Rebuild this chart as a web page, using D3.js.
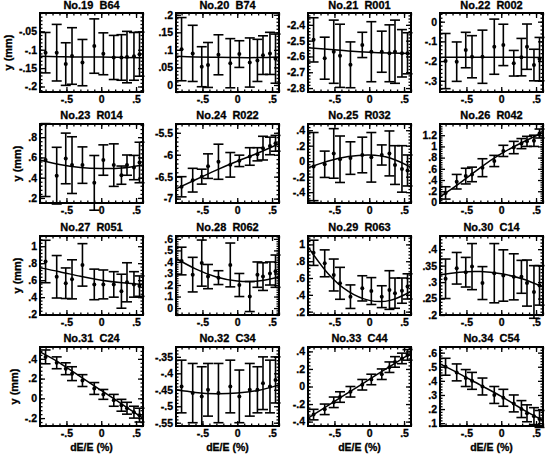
<!DOCTYPE html>
<html>
<head>
<meta charset="utf-8">
<script src="https://cdn.jsdelivr.net/npm/d3@7"></script>
<style>
  body { margin: 0; background: #fff; }
  svg text { font-family: "Liberation Sans", Arial, sans-serif; font-weight: bold; fill: #000; stroke: #000; stroke-width: 0.3px; }
</style>
</head>
<body>
<svg id="chart" width="546" height="456"></svg>
<script>
// Energy deviation dE/E (%) of each measurement
const xValues = [-0.80, -0.64, -0.51, -0.42, -0.27, -0.10, 0.03, 0.18, 0.29, 0.37, 0.47, 0.55];
// Abscissae at which the fitted curves are sampled
const fitX = [-0.88, -0.6, -0.3, 0, 0.3, 0.6];
const xTicks = [-0.5, 0, 0.5];

const panelTitles = [
  "No.19  B64", "No.20  B74", "No.21  R001", "No.22  R002",
  "No.23  R014", "No.24  R022", "No.25  R032", "No.26  R042",
  "No.27  R051", "No.28  R062", "No.29  R063", "No.30  C14",
  "No.31  C24", "No.32  C34", "No.33  C44", "No.34  C54"
];

// Vertical position y (mm): measured values, errors, fitted curve
const y19 = [-0.108, -0.108, -0.139, -0.117, -0.135, -0.090, -0.111, -0.121, -0.121, -0.120, -0.118, -0.112];
const e19 = [0.055, 0.077, 0.058, 0.077, 0.063, 0.074, 0.057, 0.060, 0.062, 0.070, 0.065, 0.060];
const f19 = [-0.118, -0.119, -0.120, -0.120, -0.121, -0.122];

const y20 = [0.102, 0.090, 0.052, 0.057, 0.086, 0.062, 0.088, 0.064, 0.070, 0.085, 0.090, 0.075];
const e20 = [0.090, 0.080, 0.057, 0.064, 0.057, 0.070, 0.038, 0.070, 0.060, 0.055, 0.060, 0.070];
const f20 = [0.082, 0.080, 0.079, 0.078, 0.078, 0.080];

const y21 = [-2.495, -2.611, -2.570, -2.596, -2.653, -2.527, -2.570, -2.570, -2.580, -2.570, -2.580, -2.580];
const e21 = [0.140, 0.133, 0.200, 0.200, 0.145, 0.080, 0.190, 0.130, 0.180, 0.200, 0.150, 0.130];
const f21 = [-2.545, -2.555, -2.565, -2.573, -2.578, -2.582];

const y22 = [-0.200, -0.203, -0.144, -0.178, -0.178, -0.127, -0.118, -0.211, -0.180, -0.127, -0.220, -0.190];
const e22 = [0.140, 0.100, 0.090, 0.107, 0.135, 0.140, 0.105, 0.065, 0.095, 0.115, 0.080, 0.110];
const f22 = [-0.180, -0.180, -0.181, -0.181, -0.181, -0.182];

const y23 = [0.574, 0.420, 0.590, 0.524, 0.524, 0.349, 0.574, 0.524, 0.425, 0.524, 0.500, 0.550];
const e23 = [0.360, 0.280, 0.250, 0.280, 0.180, 0.270, 0.150, 0.210, 0.090, 0.100, 0.120, 0.200];
const f23 = [0.575, 0.530, 0.500, 0.490, 0.495, 0.525];

const y24 = [-6.73, -6.58, -6.50, -6.26, -6.16, -6.23, -6.14, -6.04, -5.99, -5.85, -5.80, -5.74];
const e24 = [0.23, 0.27, 0.17, 0.28, 0.40, 0.28, 0.13, 0.20, 0.15, 0.27, 0.20, 0.18];
const f24 = [-6.78, -6.57, -6.35, -6.15, -5.96, -5.75];

const y25 = [-0.07, -0.04, 0.10, 0.025, 0.04, 0.08, 0.05, 0.08, 0.10, -0.05, -0.10, -0.12];
const e25 = [0.44, 0.17, 0.32, 0.30, 0.21, 0.23, 0.32, 0.13, 0.29, 0.25, 0.30, 0.20];
const f25 = [-0.085, 0.000, 0.060, 0.080, 0.040, -0.080];

const y26 = [0.17, 0.37, 0.47, 0.50, 0.62, 0.74, 0.92, 0.98, 1.05, 1.09, 1.10, 1.23];
const e26 = [0.11, 0.13, 0.14, 0.13, 0.16, 0.10, 0.10, 0.11, 0.09, 0.09, 0.10, 0.08];
const f26 = [0.10, 0.34, 0.62, 0.87, 1.07, 1.25];

const y27 = [0.82, 0.64, 0.564, 0.61, 0.78, 0.55, 0.55, 0.55, 0.47, 0.575, 0.55, 0.53];
const e27 = [0.25, 0.25, 0.18, 0.23, 0.25, 0.18, 0.17, 0.15, 0.20, 0.23, 0.15, 0.12];
const f27 = [0.745, 0.700, 0.645, 0.600, 0.570, 0.550];

const y28 = [0.408, 0.29, 0.39, 0.273, 0.264, 0.374, 0.20, 0.10, 0.29, 0.273, 0.30, 0.32];
const e28 = [0.12, 0.15, 0.20, 0.105, 0.06, 0.19, 0.10, 0.13, 0.11, 0.12, 0.10, 0.14];
const f28 = [0.430, 0.340, 0.270, 0.235, 0.235, 0.270];

const y29 = [0.90, 0.775, 0.636, 0.537, 0.378, 0.477, 0.445, 0.378, 0.457, 0.42, 0.45, 0.50];
const e29 = [0.15, 0.16, 0.19, 0.19, 0.14, 0.15, 0.16, 0.13, 0.23, 0.18, 0.15, 0.15];
const f29 = [0.970, 0.660, 0.440, 0.334, 0.334, 0.440];

const y30 = [0.31, 0.342, 0.33, 0.347, 0.297, 0.327, 0.32, 0.316, 0.316, 0.297, 0.27, 0.29];
const e30 = [0.06, 0.048, 0.045, 0.07, 0.05, 0.09, 0.078, 0.07, 0.05, 0.07, 0.08, 0.06];
const f30 = [0.322, 0.330, 0.332, 0.325, 0.310, 0.285];

const y31 = [0.42, 0.36, 0.30, 0.25, 0.18, 0.10, 0.04, -0.02, -0.07, -0.10, -0.14, -0.17];
const e31 = [0.07, 0.06, 0.06, 0.07, 0.06, 0.06, 0.05, 0.06, 0.06, 0.06, 0.06, 0.07];
const f31 = [0.47, 0.36, 0.22, 0.08, -0.06, -0.20];

const y32 = [-0.44, -0.46, -0.47, -0.45, -0.46, -0.44, -0.47, -0.45, -0.45, -0.43, -0.44, -0.42];
const e32 = [0.08, 0.09, 0.09, 0.08, 0.09, 0.08, 0.08, 0.08, 0.07, 0.08, 0.08, 0.07];
const f32 = [-0.450, -0.458, -0.462, -0.460, -0.452, -0.435];

const y33 = [-0.32, -0.26, -0.18, -0.12, -0.06, 0.02, 0.08, 0.14, 0.22, 0.28, 0.32, 0.36];
const e33 = [0.06, 0.06, 0.06, 0.06, 0.06, 0.06, 0.06, 0.06, 0.06, 0.06, 0.06, 0.06];
const f33 = [-0.36, -0.22, -0.07, 0.08, 0.23, 0.38];

const y34 = [0.50, 0.46, 0.42, 0.40, 0.36, 0.30, 0.28, 0.24, 0.20, 0.17, 0.15, 0.13];
const e34 = [0.06, 0.06, 0.06, 0.06, 0.06, 0.06, 0.06, 0.06, 0.06, 0.06, 0.06, 0.06];
const f34 = [0.52, 0.45, 0.37, 0.29, 0.20, 0.12];

// y-axis ranges and labelled ticks of each panel
const yDomains = [
  [-0.215, 0], [-0.02, 0.205], [-2.825, -2.325], [-0.357, 0.044],
  [0.15, 0.93], [-7.1, -5.3], [-0.54, 0.48], [-0.01, 1.4],
  [0.19, 1.12], [-0.06, 0.625], [0.16, 1.1], [0.2, 0.44],
  [-0.28, 0.52], [-0.56, -0.32], [-0.45, 0.45], [0.08, 0.64]
];
const yTicks = [
  [-0.2, -0.15, -0.1, -0.05], [0, 0.05, 0.1, 0.15, 0.2], [-2.8, -2.7, -2.6, -2.5, -2.4], [-0.3, -0.2, -0.1, 0],
  [0.2, 0.4, 0.6, 0.8], [-7, -6.5, -6, -5.5], [-0.4, -0.2, 0, 0.2, 0.4], [0, 0.2, 0.4, 0.6, 0.8, 1, 1.2],
  [0.2, 0.4, 0.6, 0.8, 1], [0, 0.1, 0.2, 0.3, 0.4, 0.5, 0.6], [0.2, 0.4, 0.6, 0.8, 1], [0.2, 0.25, 0.3, 0.35, 0.4],
  [-0.2, 0, 0.2, 0.4], [-0.55, -0.5, -0.45, -0.4, -0.35], [-0.4, -0.2, 0, 0.2, 0.4], [0.1, 0.2, 0.3, 0.4, 0.5, 0.6]
];

const yData = [y19, y20, y21, y22, y23, y24, y25, y26, y27, y28, y29, y30, y31, y32, y33, y34];
const eData = [e19, e20, e21, e22, e23, e24, e25, e26, e27, e28, e29, e30, e31, e32, e33, e34];
const fData = [f19, f20, f21, f22, f23, f24, f25, f26, f27, f28, f29, f30, f31, f32, f33, f34];

// ---- layout ----
const colLeft = [40, 176, 308, 440];
const rowTop = [13, 124, 236, 347];
const W = 103, H = 79;
const xDomain = [-0.88, 0.6];
const FONT = "Liberation Sans, Arial, sans-serif";
const CAP = 5;

// IDL-like number labels: ".5", "-.05", "1.2"
function fmt(v) {
  let s = String(+v.toFixed(4));
  return s.replace(/^(-?)0\./, "$1.");
}

function range(a, b, step) {
  const out = [];
  const n = Math.round((b - a) / step);
  for (let k = 0; k <= n; k++) out.push(+(a + k * step).toFixed(6));
  return out;
}

const svg = d3.select("#chart");

panelTitles.forEach((title, i) => {
  const col = i % 4, row = Math.floor(i / 4);
  const g = svg.append("g").attr("transform", `translate(${colLeft[col]},${rowTop[row]})`);
  const x = d3.scaleLinear().domain(xDomain).range([0, W]);
  const y = d3.scaleLinear().domain(yDomains[i]).range([H, 0]);

  const yt = yTicks[i];
  const yStep = yt[1] - yt[0];
  const yMinor = range(Math.ceil(yDomains[i][0] / (yStep / 5)) * (yStep / 5), yDomains[i][1], yStep / 5)
    .filter(v => v >= yDomains[i][0] && v <= yDomains[i][1]);
  const xMinor = range(-0.8, 0.6, 0.1).filter(v => v >= xDomain[0] && v <= xDomain[1]);

  function styleAxis(sel, labels) {
    sel.select(".domain").remove();
    sel.selectAll(".tick line").attr("stroke", "#000").attr("stroke-width", 1.3);
    sel.attr("font-family", FONT).attr("font-size", 10.5).attr("font-weight", "bold");
    if (!labels) sel.selectAll(".tick text").remove();
  }

  // minor ticks on all four sides
  g.append("g").attr("transform", `translate(0,${H})`)
    .call(d3.axisBottom(x).tickValues(xMinor).tickSize(-2.5).tickFormat(""))
    .call(s => styleAxis(s, false));
  g.append("g")
    .call(d3.axisTop(x).tickValues(xMinor).tickSize(-2.5).tickFormat(""))
    .call(s => styleAxis(s, false));
  g.append("g")
    .call(d3.axisLeft(y).tickValues(yMinor).tickSize(-2.5).tickFormat(""))
    .call(s => styleAxis(s, false));
  g.append("g").attr("transform", `translate(${W},0)`)
    .call(d3.axisRight(y).tickValues(yMinor).tickSize(-2.5).tickFormat(""))
    .call(s => styleAxis(s, false));

  // major ticks
  g.append("g").attr("transform", `translate(0,${H})`)
    .call(d3.axisBottom(x).tickValues(xTicks).tickSize(-5).tickPadding(4).tickFormat(fmt))
    .call(s => styleAxis(s, true));
  g.append("g")
    .call(d3.axisTop(x).tickValues(xTicks).tickSize(-5).tickFormat(""))
    .call(s => styleAxis(s, false));
  const yAxisG = g.append("g")
    .call(d3.axisLeft(y).tickValues(yt).tickSize(-5).tickPadding(3).tickFormat(fmt))
    .call(s => styleAxis(s, true));
  g.append("g").attr("transform", `translate(${W},0)`)
    .call(d3.axisRight(y).tickValues(yt).tickSize(-5).tickFormat(""))
    .call(s => styleAxis(s, false));

  // plot frame
  g.append("rect").attr("x", 0).attr("y", 0).attr("width", W).attr("height", H)
    .attr("fill", "none").attr("stroke", "#000").attr("stroke-width", 2);

  // fitted curve
  const fit = fitX.map((fx, k) => [fx, fData[i][k]]);
  g.append("path").datum(fit)
    .attr("fill", "none").attr("stroke", "#000").attr("stroke-width", 1.5)
    .attr("d", d3.line().x(d => x(d[0])).y(d => y(d[1])).curve(d3.curveNatural));

  // measurements with error bars
  const pts = xValues.map((xv, k) => ({ x: xv, y: yData[i][k], e: eData[i][k] }));
  const bars = g.append("g").attr("stroke", "#000").attr("stroke-width", 1.6);
  bars.selectAll("line.v").data(pts).join("line").attr("class", "v")
    .attr("x1", d => x(d.x)).attr("x2", d => x(d.x))
    .attr("y1", d => y(d.y - d.e)).attr("y2", d => y(d.y + d.e));
  bars.selectAll("line.t").data(pts).join("line").attr("class", "t")
    .attr("x1", d => x(d.x) - CAP).attr("x2", d => x(d.x) + CAP)
    .attr("y1", d => y(d.y + d.e)).attr("y2", d => y(d.y + d.e));
  bars.selectAll("line.b").data(pts).join("line").attr("class", "b")
    .attr("x1", d => x(d.x) - CAP).attr("x2", d => x(d.x) + CAP)
    .attr("y1", d => y(d.y - d.e)).attr("y2", d => y(d.y - d.e));
  g.selectAll("circle").data(pts).join("circle")
    .attr("cx", d => x(d.x)).attr("cy", d => y(d.y)).attr("r", 2).attr("fill", "#000");

  // panel title
  g.append("text").attr("x", W / 2).attr("y", row === 0 ? -4 : -5).attr("text-anchor", "middle")
    .attr("font-size", 11).style("white-space", "pre").text(title);

  // axis titles
  if (col === 0) {
    let maxW = 0;
    yAxisG.selectAll(".tick text").each(function () { maxW = Math.max(maxW, this.getComputedTextLength()); });
    const tx = -(3 + maxW + 7);
    g.append("text").attr("transform", `translate(${tx},${H / 2}) rotate(-90)`)
      .attr("text-anchor", "middle").attr("font-size", 11).style("white-space", "pre").text("y (mm)");
  }
  if (row === 3) {
    g.append("text").attr("x", W / 2).attr("y", H + 25).attr("text-anchor", "middle")
      .attr("font-size", 10.5).text("dE/E (%)");
  }
});
</script>
</body>
</html>
